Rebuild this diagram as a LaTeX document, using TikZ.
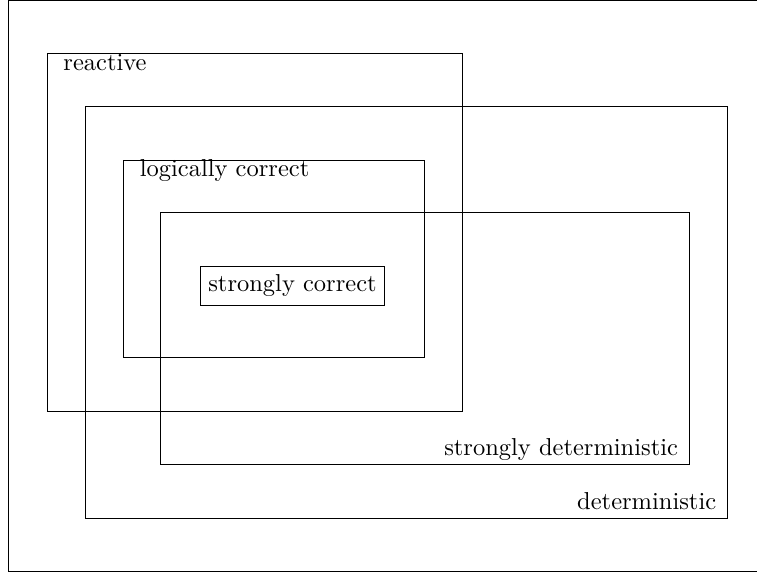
\documentclass[tikz,border=0pt]{standalone}
\usepackage{tikz}
\tikzset{
  region/.style = {draw=black, line width=0.4pt},% one set of the diagram
  setname/.style = {inner sep=0pt},% name written inside a set
  corebox/.style = {rectangle, draw=black, inner sep=3.33pt}% innermost set
}
\begin{document}
\begin{tikzpicture}
\useasboundingbox (0,0) rectangle (10.867,8.254);
\draw[region] (0.129,0.043) rectangle (10.95,8.240);

\draw[region] (0.682,2.340) rectangle (6.632,7.479);% reactive
\draw[region] (1.227,0.814) rectangle (10.450,6.718);% deterministic
\draw[region] (1.766,3.115) rectangle (6.087,5.950);% logically correct
\draw[region] (2.311,1.579) rectangle (9.898,5.197);% strongly deterministic

\node [corebox] (SC) at (4.199,4.149) {strongly correct};

\node [setname, anchor=base west] (R) at (0.904,7.239) {reactive};
\node [setname, anchor=base west] (LC) at (2.000,5.718) {logically correct};
\node [setname, anchor=base east] (SD) at (9.740,1.708) {strongly deterministic};
\node [setname, anchor=base east] (D) at (10.288,0.933) {deterministic};
\end{tikzpicture}
\end{document}
